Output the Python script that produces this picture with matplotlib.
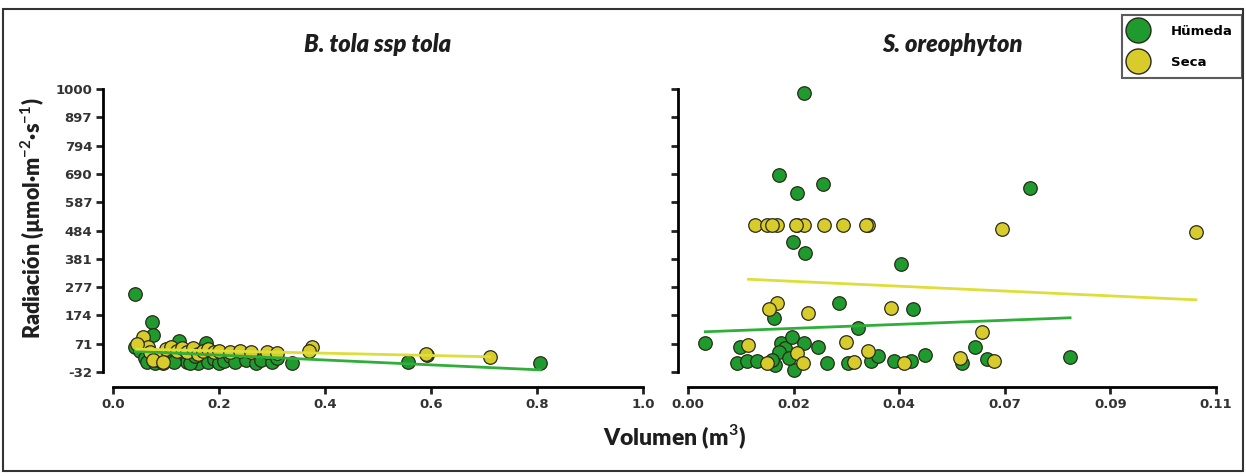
import numpy as np
import matplotlib
matplotlib.use('Agg')
from matplotlib import pyplot as plt
from matplotlib.patches import Rectangle
from matplotlib.lines import Line2D

plt.rcParams['mathtext.fontset'] = 'custom'
plt.rcParams['mathtext.rm'] = 'Lato'
plt.rcParams['mathtext.bf'] = 'Lato:bold'

# B. tola ssp tola -- volume (m3) vs radiation
tola_hum_x = [0.042, 0.073, 0.076, 0.042, 0.05, 0.06, 0.065, 0.08, 0.09, 0.10, 0.11, 0.12,
              0.125, 0.13, 0.14, 0.15, 0.16, 0.17, 0.175, 0.18, 0.19, 0.20, 0.21, 0.22,
              0.23, 0.25, 0.27, 0.28, 0.30, 0.31, 0.337, 0.557, 0.592, 0.806, 0.095, 0.105,
              0.145, 0.155, 0.115, 0.135]
tola_hum_y = [252, 150, 103, 59, 45, 20, 5, 0, 10, 35, 45, 60,
              80, 20, 5, 10, 0, 30, 75, 5, 15, 0, 8, 25,
              5, 12, 0, 10, 5, 20, 1, 4, 30, 1, 0, 15,
              0, 25, 5, 45]
tola_seca_x = [0.057, 0.066, 0.045, 0.07, 0.085, 0.09, 0.10, 0.11, 0.12, 0.13, 0.14, 0.15,
               0.16, 0.17, 0.18, 0.19, 0.20, 0.22, 0.24, 0.26, 0.29, 0.31, 0.375, 0.37,
               0.59, 0.711, 0.075, 0.095]
tola_seca_y = [96, 59, 70, 40, 12, 30, 50, 60, 45, 55, 40, 55,
               35, 45, 50, 40, 45, 40, 45, 40, 40, 38, 59, 45,
               32, 23, 10, 5]

# S. oreophyton
oreo_hum_x = [0.0241, 0.0189, 0.0228, 0.0281, 0.0218, 0.0243, 0.0444, 0.0314, 0.0469, 0.0180,
              0.0354, 0.0036, 0.0109, 0.0102, 0.0123, 0.0144, 0.0182, 0.0193, 0.0203, 0.0217,
              0.0221, 0.0242, 0.0270, 0.0290, 0.0333, 0.0381, 0.0395, 0.0430, 0.0465, 0.0493,
              0.0712, 0.0597, 0.0622, 0.0796, 0.0570, 0.0190, 0.0210, 0.0175]
oreo_hum_y = [985, 686, 621, 654, 442, 402, 362, 220, 198, 165,
              128, 74, 60, 2, 9, 6, -6, 72, 54, 97,
              -25, 72, 60, 2, 2, 6, 26, 6, 6, 30,
              639, 59, 15, 23, 1, 40, 20, 10]
oreo_seca_x = [0.0140, 0.0165, 0.0186, 0.0228, 0.0242, 0.0284, 0.0322, 0.0374, 0.0225, 0.0370,
               0.0654, 0.1058, 0.0186, 0.0168, 0.0249, 0.0423, 0.0126, 0.0329, 0.0375, 0.0228,
               0.0165, 0.0239, 0.0346, 0.0450, 0.0566, 0.0612, 0.0637, 0.0175]
oreo_seca_y = [504, 504, 504, 504, 504, 504, 504, 504, 504, 504,
               490, 479, 220, 198, 183, 201, 66, 77, 45, 37,
               1, 1, 5, 1, 19, 114, 8, 504]

# linear fits: (intercept, slope)
fit_tola_hum = (47, -89)
fit_tola_seca = (53, -42)
fit_oreo_hum = (112, 670)
fit_oreo_seca = (316, -804)

ytick_vals = np.linspace(-32.4, 1000, 11)
ytick_labels = ['-32', '71', '174', '277', '381', '484', '587', '690', '794', '897', '1000']
tola_xticks = [0.0, 0.2, 0.4, 0.6, 0.8, 1.0]
tola_xlabels = ['0.0', '0.2', '0.4', '0.6', '0.8', '1.0']
oreo_xticks = np.linspace(0, 0.11, 6)
oreo_xlabels = ['0.00', '0.02', '0.04', '0.07', '0.09', '0.11']

green = '#1e9a2e'
yellow = '#d8cc2c'
green_line = '#2fae3a'
yellow_line = '#dede3a'
edge = '#2a2a1a'
ink = '#1e1e1e'

W, H = 1246, 476
fig = plt.figure(figsize=(W / 100, H / 100), dpi=100)

def px_axes(x0, x1, y0, y1):
    return fig.add_axes([x0 / W, 1 - y1 / H, (x1 - x0) / W, (y1 - y0) / H])

def style(ax, xlim, xticks, xlabels, show_y):
    ax.set_xlim(*xlim)
    ax.set_ylim(-32.4, 1000)
    for s in ['top', 'right']:
        ax.spines[s].set_visible(False)
    ax.spines['left'].set_position(('outward', 7))
    ax.spines['bottom'].set_position(('outward', 11))
    ax.spines['left'].set_linewidth(2)
    ax.spines['bottom'].set_linewidth(2)
    ax.set_xticks(xticks)
    ax.set_xticklabels(xlabels)
    ax.set_yticks(ytick_vals)
    ax.set_yticklabels(ytick_labels if show_y else [])
    ax.tick_params(direction='out', length=5, width=2, labelsize=9.5, colors='#222222', pad=3)
    for lab in ax.get_xticklabels() + ax.get_yticklabels():
        lab.set_fontweight('bold')
        lab.set_family('DejaVu Sans')
        lab.set_color('#333333')

def panel(ax, hx, hy, sx, sy, fh, fs):
    ax.scatter(hx, hy, s=95, color=green, edgecolor=edge, linewidth=0.9, zorder=3, clip_on=False)
    ax.scatter(sx, sy, s=95, color=yellow, edgecolor=edge, linewidth=0.9, zorder=3, clip_on=False)
    xs = np.array([min(hx), max(hx)])
    ax.plot(xs, fh[0] + fh[1] * xs, color=green_line, lw=2, zorder=4)
    xs = np.array([min(sx), max(sx)])
    ax.plot(xs, fs[0] + fs[1] * xs, color=yellow_line, lw=2, zorder=4)

ax1 = px_axes(113, 643, 89, 372)
panel(ax1, tola_hum_x, tola_hum_y, tola_seca_x, tola_seca_y, fit_tola_hum, fit_tola_seca)
style(ax1, (0, 1.0), tola_xticks, tola_xlabels, True)
ax1.set_title('B. tola ssp tola', family='Lato', fontweight='heavy', style='italic',
              fontsize=17, pad=27, color=ink)

ax2 = px_axes(688, 1216, 89, 372)
panel(ax2, oreo_hum_x, oreo_hum_y, oreo_seca_x, oreo_seca_y, fit_oreo_hum, fit_oreo_seca)
style(ax2, (0, 0.11), oreo_xticks, oreo_xlabels, False)
ax2.set_title('S. oreophyton', family='Lato', fontweight='heavy', style='italic',
              fontsize=17, pad=27, color=ink)

fig.text(33 / W, 1 - 218 / H, 'Radiación (µmol·m$^{\\mathbf{-2}}$·s$^{\\mathbf{-1}}$)',
         rotation=90, ha='center', va='center', family='Lato', fontweight='heavy',
         fontsize=15.5, color=ink)
fig.text(674 / W, 1 - 437 / H, 'Volumen (m$^{\\mathbf{3}}$)', ha='center', va='center',
         family='Lato', fontweight='heavy', fontsize=16.5, color=ink)

# figure border
fig.patches.append(Rectangle((3 / W, 1 - 471 / H), 1240 / W, 462 / H, transform=fig.transFigure,
                             fill=False, edgecolor='#333333', linewidth=1.5))

handles = [Line2D([], [], marker='o', ls='', markersize=18, markerfacecolor=green,
                  markeredgecolor=edge, markeredgewidth=1),
           Line2D([], [], marker='o', ls='', markersize=18, markerfacecolor=yellow,
                  markeredgecolor=edge, markeredgewidth=1)]
leg = fig.legend(handles, ['Hümeda', 'Seca'], loc='upper right',
                 bbox_to_anchor=(1242 / W, 1 - 15 / H), frameon=True, fancybox=False,
                 edgecolor='#333333', prop={'family': 'DejaVu Sans', 'weight': 'bold', 'size': 9.5},
                 handletextpad=2.0, labelspacing=1.25, borderpad=0.7, borderaxespad=0,
                 handlelength=1.0, handleheight=1.2)
leg.get_frame().set_linewidth(1.5)

fig.savefig('out.png', dpi=100)
